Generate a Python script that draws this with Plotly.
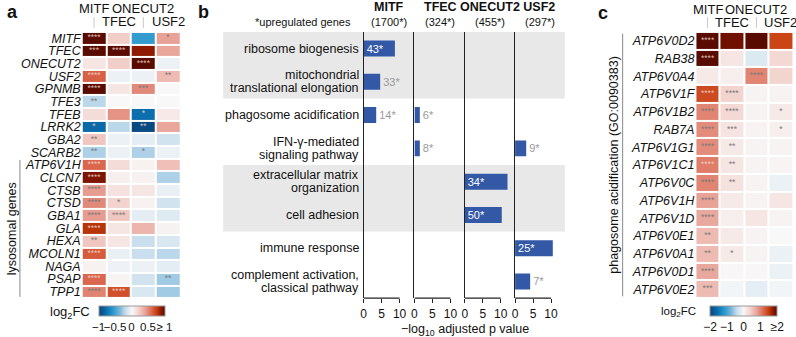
import plotly.graph_objects as go

W, H = 796, 337
FONT = "Liberation Sans, Arial, Helvetica, sans-serif"

# ---------------- data ----------------
tfs = ["MITF", "TFEC", "ONECUT2", "USF2"]

genes_a = ["MITF", "TFEC", "ONECUT2", "USF2", "GPNMB", "TFE3", "TFEB", "LRRK2", "GBA2", "SCARB2",
           "ATP6V1H", "CLCN7", "CTSB", "CTSD", "GBA1", "GLA", "HEXA", "MCOLN1", "NAGA", "PSAP", "TPP1"]
lfc_a = [
    [1.00, 0.22, -0.55, 0.40],
    [1.00, 1.00, 0.88, 0.38],
    [0.10, 0.22, 1.00, -0.05],
    [0.62, -0.05, -0.05, 0.30],
    [1.00, 0.10, 0.48, 0.00],
    [-0.22, 0.00, 0.00, 0.00],
    [0.15, 0.45, -0.78, 0.08],
    [-0.80, -0.22, -0.98, 0.38],
    [0.25, -0.05, -0.08, -0.15],
    [-0.25, -0.05, -0.25, -0.05],
    [0.60, 0.15, 0.04, 0.28],
    [0.92, 0.05, 0.04, -0.25],
    [0.42, 0.12, 0.10, -0.06],
    [0.48, 0.20, 0.04, -0.15],
    [0.42, 0.25, -0.08, -0.10],
    [0.78, 0.10, 0.32, 0.03],
    [0.25, 0.10, -0.18, -0.12],
    [0.64, -0.06, -0.18, -0.22],
    [0.04, -0.04, -0.05, -0.08],
    [0.60, 0.02, -0.15, -0.28],
    [0.50, 0.68, -0.12, -0.28],
]
stars_a = [
    ["****", "", "", "*"],
    ["***", "****", "", ""],
    ["", "", "****", ""],
    ["****", "", "", "**"],
    ["****", "", "***", ""],
    ["**", "", "", ""],
    ["", "", "*", ""],
    ["*", "", "**", ""],
    ["**", "", "", ""],
    ["**", "", "*", ""],
    ["****", "", "", ""],
    ["****", "", "", ""],
    ["****", "", "", ""],
    ["****", "*", "", ""],
    ["****", "****", "", ""],
    ["****", "", "", ""],
    ["**", "", "", ""],
    ["****", "", "", ""],
    ["", "", "", ""],
    ["****", "", "", "**"],
    ["****", "****", "", ""],
]
lyso_first, lyso_last = 10, 20

terms = [["ribosome biogenesis"],
         ["mitochondrial", "translational elongation"],
         ["phagosome acidification"],
         ["IFN-γ-mediated", "signaling pathway"],
         ["extracellular matrix", "organization"],
         ["cell adhesion"],
         ["immune response"],
         ["complement activation,", "classical pathway"]]
upregulated = ["1700*", "324*", "455*", "297*"]
# -log10 adjusted p value (None = not enriched)
p_mitf = [8.7, 4.6, 3.5, None, None, None, None, None]
p_tfec = [None, None, 1.5, 1.5, None, None, None, None]
p_onecut2 = [None, None, None, None, 11.9, 10.3, None, None]
p_usf2 = [None, None, None, 3.1, None, None, 10.5, 4.2]
n_mitf = [43, 33, 14, None, None, None, None, None]
n_tfec = [None, None, 6, 8, None, None, None, None]
n_onecut2 = [None, None, None, None, 34, 50, None, None]
n_usf2 = [None, None, None, 9, None, None, 25, 7]
shaded_groups = [(0, 1), (4, 5)]
bar_ticks = [0, 5, 10]

genes_c = ["ATP6V0D2", "RAB38", "ATP6V0A4", "ATP6V1F", "ATP6V1B2", "RAB7A", "ATP6V1G1", "ATP6V1C1",
           "ATP6V0C", "ATP6V1H", "ATP6V1D", "ATP6V0E1", "ATP6V0A1", "ATP6V0D1", "ATP6V0E2"]
lfc_c = [
    [2.00, 1.90, 2.00, 1.45],
    [2.00, 0.20, -0.22, 0.35],
    [0.15, 0.10, 1.00, 0.38],
    [1.40, 0.40, 0.05, 0.05],
    [1.00, 0.35, 0.05, 0.15],
    [0.95, 0.22, 0.05, 0.10],
    [0.95, 0.15, 0.05, 0.05],
    [1.05, 0.20, 0.05, 0.04],
    [1.00, 0.25, 0.05, -0.10],
    [0.80, 0.15, 0.05, 0.20],
    [0.75, 0.10, 0.20, 0.05],
    [0.60, 0.15, 0.05, 0.00],
    [0.60, 0.15, 0.05, -0.10],
    [0.75, 0.02, 0.02, -0.10],
    [0.60, -0.05, -0.15, -0.05],
]
stars_c = [
    ["****", "", "", ""],
    ["****", "", "", ""],
    ["", "", "****", ""],
    ["****", "****", "", ""],
    ["****", "****", "", "*"],
    ["****", "***", "", "*"],
    ["****", "**", "", ""],
    ["****", "**", "", ""],
    ["****", "**", "", ""],
    ["****", "", "", ""],
    ["****", "", "", ""],
    ["**", "", "", ""],
    ["**", "*", "", ""],
    ["****", "", "", ""],
    ["***", "", "", ""],
]

cb_a_vals = [-1, -0.5, 0, 0.5, 1]
cb_a_text = ["−1", "−0.5", "0", "0.5", "≥ 1"]
cb_c_vals = [-2, -1, 0, 1, 2]
cb_c_text = ["−2", "−1", "0", "1", "≥2"]

# ---------------- styles ----------------
cscale = [
    [0.00, "#08457e"], [0.10, "#0a6aa8"], [0.20, "#1f95cb"], [0.30, "#6cb0d8"],
    [0.40, "#c4dcec"], [0.50, "#f8f8f8"], [0.60, "#f3d3ce"], [0.70, "#e8a296"],
    [0.80, "#da664e"], [0.87, "#c8400f"], [0.94, "#8e1a00"], [1.00, "#5a0b00"],
]
BAR = "#3358a6"


def px(x):
    return x / W


def py(y):
    return 1 - y / H


Y_TOP, Y_BOT = 32, 299
ydom = [py(Y_BOT), py(Y_TOP)]

fig = go.Figure()


def star_colors(z, zmax):
    return [["rgba(240,215,208,0.85)" if abs(v) / zmax > 0.5 else "#7a7a7a" for v in row] for row in z]


def add_heat(z, stars, zmax, xa, ya, cb):
    nr = len(z)
    fig.add_trace(go.Heatmap(
        z=z, x=list(range(4)), y=list(range(nr)), zmin=-zmax, zmax=zmax,
        colorscale=cscale, xgap=2, ygap=2, xaxis=xa, yaxis=ya,
        hoverinfo="skip", colorbar=cb))
    xs, ys, ts, cs = [], [], [], []
    cols = star_colors(z, zmax)
    for r in range(nr):
        for c in range(4):
            if stars[r][c]:
                xs.append(c)
                ys.append(r)
                ts.append(stars[r][c])
                cs.append(cols[r][c])
    fig.add_trace(go.Scatter(x=xs, y=ys, text=ts, mode="text", xaxis=xa, yaxis=ya,
                             textfont=dict(size=8.5, color=cs, family=FONT),
                             hoverinfo="skip", showlegend=False))


cb_common = dict(orientation="h", lenmode="pixels", thickness=10, thicknessmode="pixels",
                 xpad=0, ypad=0, outlinewidth=1, outlinecolor="#999", ticks="", tickangle=0,
                 yanchor="top", xanchor="center")

add_heat(lfc_a, stars_a, 1.0, "x", "y",
         dict(cb_common, x=px(129), y=py(307), len=66, tickvals=cb_a_vals, ticktext=cb_a_text,
              tickfont=dict(size=11.5, family=FONT, color="#111")))
add_heat(lfc_c, stars_c, 2.0, "x6", "y6",
         dict(cb_common, x=px(743.5), y=py(307), len=67, tickvals=cb_c_vals, ticktext=cb_c_text,
              tickfont=dict(size=12, family=FONT, color="#111")))

# bars
bar_sets = [(p_mitf, n_mitf), (p_tfec, n_tfec), (p_onecut2, n_onecut2), (p_usf2, n_usf2)]
for i, (pv, nv) in enumerate(bar_sets):
    xa = "x%d" % (i + 2)
    ya = "y%d" % (i + 2)
    texts = [("%d*" % n) if n is not None else "" for n in nv]
    pos = ["inside" if (v is not None and v > 6) else "outside" for v in pv]
    fig.add_trace(go.Bar(
        x=pv, y=list(range(len(terms))), orientation="h", width=0.48,
        marker=dict(color=BAR, line=dict(width=0)), text=texts, textposition=pos,
        insidetextanchor="start", constraintext="none", cliponaxis=False,
        insidetextfont=dict(color="white", size=11, family=FONT),
        outsidetextfont=dict(color="#9a9a9a", size=11, family=FONT),
        xaxis=xa, yaxis=ya, hoverinfo="skip", showlegend=False))

layout = dict(
    width=W, height=H, margin=dict(l=0, r=0, t=0, b=0),
    paper_bgcolor="white", plot_bgcolor="rgba(0,0,0,0)",
    font=dict(family=FONT, size=12, color="#111"),
    showlegend=False,
)
axis_off = dict(showgrid=False, zeroline=False, showticklabels=False, ticks="", showline=False)
layout["xaxis"] = dict(axis_off, domain=[px(79), px(178)], range=[-0.5, 3.5], anchor="y")
layout["yaxis"] = dict(showgrid=False, zeroline=False, ticks="", domain=ydom, range=[20.5, -0.5],
                       anchor="x", tickvals=list(range(len(genes_a))),
                       ticktext=["<i>%s</i>" % g for g in genes_a],
                       tickfont=dict(size=12.5, family=FONT, color="#111"))
layout["xaxis6"] = dict(axis_off, domain=[px(695), px(793)], range=[-0.5, 3.5], anchor="y6")
layout["yaxis6"] = dict(showgrid=False, zeroline=False, ticks="", domain=ydom,
                        range=[len(genes_c) - 0.5, -0.5], anchor="x6",
                        tickvals=list(range(len(genes_c))),
                        ticktext=["<i>%s</i>" % g for g in genes_c],
                        tickfont=dict(size=12.5, family=FONT, color="#111"))
bar_left = [362, 413, 463.5, 514]
bar_w = 50.5
for i in range(4):
    layout["xaxis%d" % (i + 2)] = dict(
        domain=[px(bar_left[i]), px(bar_left[i] + bar_w)], range=[0, 14], anchor="y%d" % (i + 2),
        tickvals=bar_ticks, ticks="outside", ticklen=4, tickcolor="#222", tickwidth=1,
        showline=False, showgrid=False, zeroline=False,
        tickfont=dict(size=12, family=FONT, color="#111"))
    layout["yaxis%d" % (i + 2)] = dict(
        domain=ydom, range=[len(terms) - 0.5, -0.5], anchor="x%d" % (i + 2),
        showline=True, linecolor="#222", linewidth=1.2, showticklabels=False, ticks="",
        showgrid=False, zeroline=False)
fig.update_layout(**layout)

shapes = []
for a, b in shaded_groups:
    shapes.append(dict(type="rect", xref="paper", yref="y2", x0=px(221), x1=px(564),
                       y0=a - 0.5, y1=b + 0.5, fillcolor="#e8e8e8", line=dict(width=0), layer="below"))
for i in range(4):
    shapes.append(dict(type="line", xref="x%d" % (i + 2), yref="y%d domain" % (i + 2),
                       x0=bar_ticks[0], x1=bar_ticks[-1], y0=0, y1=0, line=dict(color="#222", width=1.2)))
# header leader lines
for xa, ya_top, ya_bot in [("x", 17, 28), ("x6", 17, 28)]:
    for c in (0, 2):
        shapes.append(dict(type="line", xref=xa, yref="paper", x0=c, x1=c, y0=py(ya_bot), y1=py(ya_top),
                           line=dict(color="#c8c8c8", width=1)))
# group brackets
shapes.append(dict(type="line", xref="paper", yref="y", x0=px(17), x1=px(17),
                   y0=lyso_first - 0.4, y1=lyso_last + 0.4, line=dict(color="#888", width=1)))
shapes.append(dict(type="line", xref="paper", yref="y6", x0=px(622), x1=px(622),
                   y0=-0.4, y1=len(genes_c) - 0.6, line=dict(color="#888", width=1)))
fig.update_layout(shapes=shapes)

ann = []


def A(text, x, y, size=12, xref="paper", yref="paper", xanchor="center", yanchor="middle", color="#111", **kw):
    ann.append(dict(text=text, x=x, y=y, xref=xref, yref=yref, xanchor=xanchor, yanchor=yanchor,
                    showarrow=False, font=dict(size=size, color=color, family=FONT), **kw))


# panel letters
A("<b>a</b>", px(10), py(12), size=18)
A("<b>b</b>", px(201), py(12), size=18)
A("<b>c</b>", px(602), py(13), size=18)

# heatmap headers
for xa, ytop, ybot, sz in [("x", 9, 22, 13), ("x6", 10, 23, 13)]:
    for c, t in enumerate(tfs):
        A(t, c, py(ytop if c % 2 == 0 else ybot), size=sz, xref=xa)

A("log<sub>2</sub>FC", px(67), py(313), size=13)
A("log<sub>2</sub>FC", px(678), py(313), size=11.5)

A("lysosomal genes", px(9), (lyso_first + lyso_last) / 2, size=12.5, yref="y", textangle=-90)
A("phagosome acidification (GO:0090383)", px(613), (len(genes_c) - 1) / 2, size=12.5, yref="y6",
  textangle=-90)

# panel b headers
A("*upregulated genes", px(301), py(22), size=11)
A("<b>%s</b>" % tfs[0], px(bar_left[0] + bar_w / 2), py(7), size=12.5)
A("<b>%s</b>" % " ".join(tfs[1:]), px(bar_left[2] + bar_w / 2), py(7), size=12.5)
for i, u in enumerate(upregulated):
    A("(%s)" % u, px(bar_left[i] + bar_w / 2), py(22), size=11)

# term labels
LS = 13
for i, lines in enumerate(terms):
    n = len(lines)
    for j, ln in enumerate(lines):
        off = (j - (n - 1) / 2) * LS
        A(ln, px(359), i, size=12.5, yref="y2", xanchor="right", yshift=-off)

A("−log<sub>10</sub> adjusted p value", px(463.5), py(331), size=12.5)

fig.update_layout(annotations=ann)
fig.write_html("out.html", config={"displayModeBar": False},
               post_script="document.body.style.margin='0';")
